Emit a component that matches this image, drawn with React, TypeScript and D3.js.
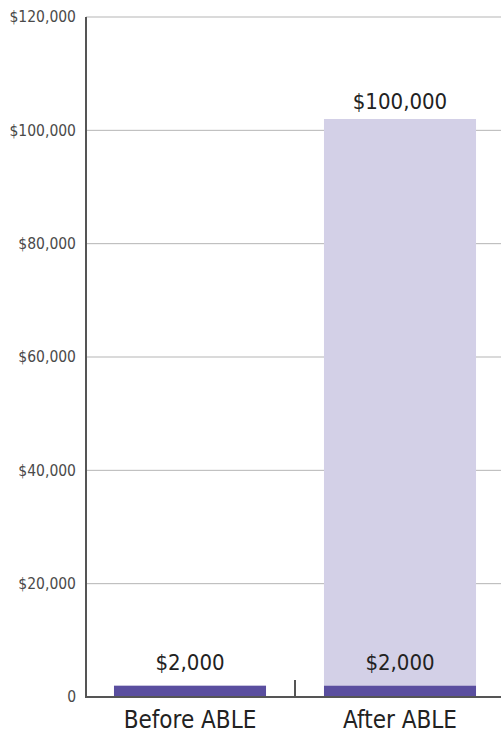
import React from "react";
import * as d3 from "d3";

const categories = ["Before ABLE", "After ABLE"];
const baseValues = [2000, 2000];
const extraValues = [0, 100000];
const yTicks = [0, 20000, 40000, 60000, 80000, 100000, 120000];

const W = 501;
const H = 733;
const FONT = "'Liberation Sans Narrow', 'DejaVu Sans Condensed', 'Roboto', sans-serif";

export default function App() {
  const y = d3.scaleLinear().domain([0, 120000]).range([697, 17]);
  const x = d3
    .scaleBand<string>()
    .domain(categories)
    .range([85, 505])
    .paddingInner(0.276)
    .paddingOuter(0.138);
  const bw = x.bandwidth();
  const fmt = (v: number) => (v === 0 ? "0" : "$" + d3.format(",")(v));
  return (
    <svg
      width={W}
      height={H}
      style={{ position: "absolute", left: 0, top: 0, fontFamily: FONT, fontStretch: "condensed" }}
    >
      {yTicks.map((t) => (
        <g key={t}>
          {t > 0 && (
            <line x1={86} x2={W} y1={y(t)} y2={y(t)} stroke="#b5b5b5" strokeWidth={1} />
          )}
          <text
            x={76}
            y={y(t)}
            dy="0.35em"
            textAnchor="end"
            fontSize={15.5}
            fill="#4a4a4a"
          >
            {fmt(t)}
          </text>
        </g>
      ))}
      {categories.map((c, i) => {
        const x0 = x(c)!;
        const cx = x0 + bw / 2;
        return (
          <g key={c}>
            {extraValues[i] > 0 && (
              <rect
                x={x0}
                width={bw}
                y={y(baseValues[i] + extraValues[i])}
                height={y(baseValues[i]) - y(baseValues[i] + extraValues[i])}
                fill="#d3d0e7"
              />
            )}
            <rect
              x={x0}
              width={bw}
              y={y(baseValues[i])}
              height={y(0) - y(baseValues[i])}
              fill="#5a4e9f"
            />
            <text x={cx} y={670} textAnchor="middle" fontSize={22} fill="#222">
              {fmt(baseValues[i])}
            </text>
            {extraValues[i] > 0 && (
              <text
                x={cx}
                y={y(baseValues[i] + extraValues[i]) - 10}
                textAnchor="middle"
                fontSize={22}
                fill="#222"
              >
                {fmt(extraValues[i])}
              </text>
            )}
            <text x={cx} y={728} textAnchor="middle" fontSize={24} fill="#222">
              {c}
            </text>
          </g>
        );
      })}
      {/* middle tick between bands */}
      <line
        x1={x.step() + 85}
        x2={x.step() + 85}
        y1={680}
        y2={697}
        stroke="#555"
        strokeWidth={2}
      />
      <line x1={86} x2={86} y1={17} y2={698} stroke="#555" strokeWidth={2} />
      <line x1={85} x2={W} y1={697} y2={697} stroke="#555" strokeWidth={2} />
    </svg>
  );
}
